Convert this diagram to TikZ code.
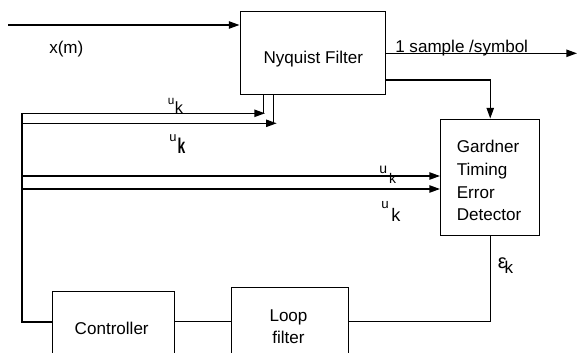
\documentclass[tikz,border=0pt]{standalone}
\usepackage{fontspec}
\setmainfont{Liberation Sans}
\usetikzlibrary{arrows.meta}
\newcommand{\ukmark}[4]{{\fontsize{#1}{#1}\selectfont u}\kern#2\raisebox{-#3}{#4}}
\begin{document}
\begin{tikzpicture}[x=0.75pt,y=-0.75pt,
  blk/.style={draw,line width=0.75pt,inner sep=0pt},
  txt/.style={inner sep=0pt,font=\fontsize{12.8}{12.8}\selectfont},
  uklbl/.style={inner sep=0pt,anchor=base west},
  wire/.style={line width=1pt},
  thickwire/.style={line width=1.3pt},
  arr/.style={wire,-{Triangle[length=8pt,width=5.5pt]}}]
\useasboundingbox (0,0) rectangle (578,353);
\clip (0,0) rectangle (578,353);

% blocks
\node[blk,minimum width=108.75pt,minimum height=61.95pt] (nyq) at (312.5,53) {};
\node[txt,anchor=base] (nyqt) at (313.3,63.3) {Nyquist Filter};
\node[blk,minimum width=74.6pt,minimum height=87pt] (gard) at (490.25,177) {};
\node[txt,anchor=base west] (g1) at (456.5,152.5) {Gardner};
\node[txt,anchor=base west] (g2) at (456.5,175) {Timing};
\node[txt,anchor=base west] (g3) at (456.5,198) {Error};
\node[txt,anchor=base west] (g4) at (456.5,220) {Detector};
\node[blk,minimum width=91.5pt,minimum height=59.25pt] (ctrl) at (113.3,330.5) {};
\node[txt,anchor=base] (ctrlt) at (111.7,334) {Controller};
\node[blk,minimum width=88pt,minimum height=62pt] (loop) at (290.3,328.65) {};
\node[txt,anchor=base] (loopt1) at (288.5,321.7) {Loop};
\node[txt,anchor=base] (loopt2) at (288.5,343.3) {filter};

% coordinates
\coordinate (xin) at (8,25);
\coordinate (yout) at (577,53.3);
\coordinate (tap) at (385,80);
\coordinate (L1) at (21.7,113.3);
\coordinate (L2) at (21.7,123.3);
\coordinate (L3) at (21.7,176);
\coordinate (L4) at (21.7,189);
\coordinate (L5) at (21.7,321.7);
\coordinate (s1) at (263.3,113.3);
\coordinate (s2) at (273.3,123.3);
\coordinate (a1) at (265,113.3);
\coordinate (a2) at (276.7,123.3);
\coordinate (fb) at (490.7,321.7);

% connectors
\draw[arr] (xin) -- (xin -| nyq.west);
\draw[arr] (nyq.east |- yout) -- (yout);
\draw[arr] (tap) -| (gard.north);
\draw[wire] (nyq.south -| s1) -- (s1);
\draw[wire] (nyq.south -| s2) -- (s2);
\draw[arr] (L1) -- (a1);
\draw[arr] (L2) -- (a2);
\draw[arr] (L3) -- (L3 -| gard.west);
\draw[arr] (L4) -- (L4 -| gard.west);
\draw[thickwire] (L1) -- (L5) -- (L5 -| ctrl.west);
\draw[wire] (gard.south -| fb) -- (fb) -- (fb -| loop.east);
\draw[wire] (fb -| loop.west) -- (fb -| ctrl.east);

% labels
\node[txt,anchor=base west] (xm) at (49,54) {x(m)};
\node[txt,anchor=base west] (rate) at (395,52.5) {1 sample /symbol};
\node[uklbl] (uk1) at (167.5,104) {\ukmark{8.8pt}{0.5pt}{6.75pt}{\fontsize{12.2}{12.2}\selectfont k}};
\node[uklbl] (uk2) at (169,141.7) {\ukmark{9.7pt}{0.8pt}{8.7pt}{\scalebox{0.65}[1]{\fontsize{16}{16}\selectfont\bfseries k}}};
\node[uklbl] (uk3) at (379,173) {\ukmark{10.5pt}{1.5pt}{7.5pt}{\fontsize{10.5}{10.5}\selectfont k}};
\node[uklbl] (uk4) at (381,208) {\ukmark{10pt}{2pt}{9.75pt}{\fontsize{13.6}{13.6}\selectfont k}};
\node[uklbl] (ek) at (497.5,268) {{\fontsize{15}{15}\selectfont ε}\kern-1.5pt\raisebox{-3.75pt}{\fontsize{12.8}{12.8}\selectfont k}};
\end{tikzpicture}
\end{document}
